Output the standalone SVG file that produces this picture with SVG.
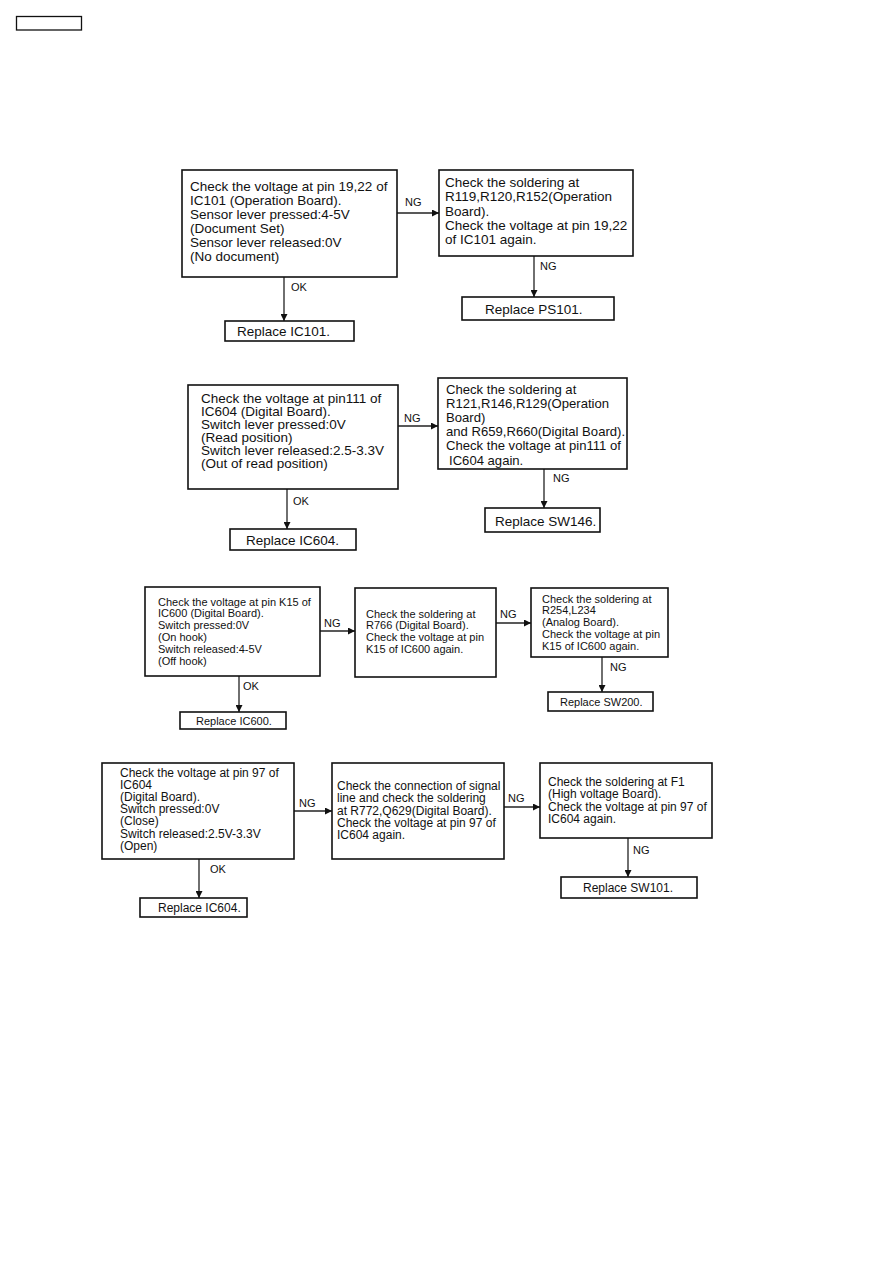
<svg xmlns="http://www.w3.org/2000/svg" width="893" height="1263" viewBox="0 0 893 1263">
<style>
  .box{fill:#fff;stroke:#111;stroke-width:1.6}
  .t{font-family:"Liberation Sans",Arial,Helvetica,sans-serif;fill:#111}
  .s1{font-size:13.5px}
  .s2{font-size:13.1px}
  .s3{font-size:11px}
  .s4{font-size:12px}
  .lbl{font-family:"Liberation Sans",Arial,Helvetica,sans-serif;fill:#111;font-size:11px}
  .c{fill:none;stroke:#222;stroke-width:1.3}
</style>
<defs>
  <marker id="ah" viewBox="0 0 10 10" refX="10" refY="5" markerWidth="7" markerHeight="7" markerUnits="userSpaceOnUse" orient="auto">
    <path d="M0,0 L10,5 L0,10 Z" fill="#111"/>
  </marker>
</defs>
<rect x="16.5" y="16.5" width="65" height="13.5" fill="none" stroke="#111" stroke-width="1.3"/>

<g id="connectors">
  <line class="c" x1="397" y1="213" x2="439" y2="213" marker-end="url(#ah)"/>
  <line class="c" x1="284" y1="277" x2="284" y2="321" marker-end="url(#ah)"/>
  <line class="c" x1="534" y1="256" x2="534" y2="297" marker-end="url(#ah)"/>
  <line class="c" x1="398" y1="426" x2="438" y2="426" marker-end="url(#ah)"/>
  <line class="c" x1="287" y1="489" x2="287" y2="529" marker-end="url(#ah)"/>
  <line class="c" x1="544" y1="469" x2="544" y2="508" marker-end="url(#ah)"/>
  <line class="c" x1="320" y1="631" x2="355" y2="631" marker-end="url(#ah)"/>
  <line class="c" x1="496" y1="623" x2="531" y2="623" marker-end="url(#ah)"/>
  <line class="c" x1="239" y1="676" x2="239" y2="712" marker-end="url(#ah)"/>
  <line class="c" x1="602" y1="657" x2="602" y2="692" marker-end="url(#ah)"/>
  <line class="c" x1="294" y1="811" x2="332" y2="811" marker-end="url(#ah)"/>
  <line class="c" x1="504" y1="807" x2="540" y2="807" marker-end="url(#ah)"/>
  <line class="c" x1="199" y1="859" x2="199" y2="898" marker-end="url(#ah)"/>
  <line class="c" x1="628" y1="838" x2="628" y2="877" marker-end="url(#ah)"/>
  <text class="lbl" x="405" y="206">NG</text>
  <text class="lbl" x="540" y="270">NG</text>
  <text class="lbl" x="291" y="291">OK</text>
  <text class="lbl" x="404" y="422">NG</text>
  <text class="lbl" x="553" y="482">NG</text>
  <text class="lbl" x="293" y="505">OK</text>
  <text class="lbl" x="324" y="627">NG</text>
  <text class="lbl" x="500" y="618">NG</text>
  <text class="lbl" x="243" y="690">OK</text>
  <text class="lbl" x="610" y="671">NG</text>
  <text class="lbl" x="299" y="807">NG</text>
  <text class="lbl" x="508" y="802">NG</text>
  <text class="lbl" x="210" y="873">OK</text>
  <text class="lbl" x="633" y="854">NG</text>
</g>

<!-- Section 1 -->
<g id="n1a">
  <rect class="box" x="182" y="170" width="215" height="107"/>
  <text class="t s1" x="190" y="191">
    <tspan x="190">Check the voltage at pin 19,22 of</tspan>
    <tspan x="190" dy="14">IC101 (Operation Board).</tspan>
    <tspan x="190" dy="14">Sensor lever pressed:4-5V</tspan>
    <tspan x="190" dy="14">(Document Set)</tspan>
    <tspan x="190" dy="14">Sensor lever released:0V</tspan>
    <tspan x="190" dy="14">(No document)</tspan>
  </text>
</g>
<g id="n1b">
  <rect class="box" x="439" y="170" width="194" height="86"/>
  <text class="t s1" x="445" y="187">
    <tspan x="445">Check the soldering at</tspan>
    <tspan x="445" dy="14.3">R119,R120,R152(Operation</tspan>
    <tspan x="445" dy="14.3">Board).</tspan>
    <tspan x="445" dy="14.3">Check the voltage at pin 19,22</tspan>
    <tspan x="445" dy="14.3">of IC101 again.</tspan>
  </text>
</g>
<g id="n1c">
  <rect class="box" x="225" y="321" width="129" height="20"/>
  <text class="t s1" x="237" y="336">Replace IC101.</text>
</g>
<g id="n1d">
  <rect class="box" x="462" y="297" width="152" height="23"/>
  <text class="t s1" x="485" y="314">Replace PS101.</text>
</g>

<!-- Section 2 -->
<g id="n2a">
  <rect class="box" x="188" y="385" width="210" height="104"/>
  <text class="t s1" x="201" y="403">
    <tspan x="201">Check the voltage at pin111 of</tspan>
    <tspan x="201" dy="13">IC604 (Digital Board).</tspan>
    <tspan x="201" dy="13">Switch lever pressed:0V</tspan>
    <tspan x="201" dy="13">(Read position)</tspan>
    <tspan x="201" dy="13">Switch lever released:2.5-3.3V</tspan>
    <tspan x="201" dy="13">(Out of read position)</tspan>
  </text>
</g>
<g id="n2b">
  <rect class="box" x="438" y="378" width="189" height="91"/>
  <text class="t s2" x="446" y="393.5">
    <tspan x="446">Check the soldering at</tspan>
    <tspan x="446" dy="14.2">R121,R146,R129(Operation</tspan>
    <tspan x="446" dy="14.2">Board)</tspan>
    <tspan x="446" dy="14.2">and R659,R660(Digital Board).</tspan>
    <tspan x="446" dy="14.2">Check the voltage at pin111 of</tspan>
    <tspan x="449" dy="14.2">IC604 again.</tspan>
  </text>
</g>
<g id="n2c">
  <rect class="box" x="230" y="529" width="126" height="21"/>
  <text class="t s1" x="246" y="545">Replace IC604.</text>
</g>
<g id="n2d">
  <rect class="box" x="485" y="508" width="115" height="24"/>
  <text class="t s1" x="495" y="526">Replace SW146.</text>
</g>

<!-- Section 3 -->
<g id="n3a">
  <rect class="box" x="145" y="587" width="175" height="89"/>
  <text class="t s3" x="158" y="605.5">
    <tspan x="158">Check the voltage at pin K15 of</tspan>
    <tspan x="158" dy="11.9">IC600 (Digital Board).</tspan>
    <tspan x="158" dy="11.9">Switch pressed:0V</tspan>
    <tspan x="158" dy="11.9">(On hook)</tspan>
    <tspan x="158" dy="11.9">Switch released:4-5V</tspan>
    <tspan x="158" dy="11.9">(Off hook)</tspan>
  </text>
</g>
<g id="n3b">
  <rect class="box" x="355" y="588" width="141" height="89"/>
  <text class="t s3" x="366" y="617.5">
    <tspan x="366">Check the soldering at</tspan>
    <tspan x="366" dy="11.9">R766 (Digital Board).</tspan>
    <tspan x="366" dy="11.9">Check the voltage at pin</tspan>
    <tspan x="366" dy="11.9">K15 of IC600 again.</tspan>
  </text>
</g>
<g id="n3c">
  <rect class="box" x="531" y="588" width="137" height="69"/>
  <text class="t s3" x="542" y="602.5">
    <tspan x="542">Check the soldering at</tspan>
    <tspan x="542" dy="11.9">R254,L234</tspan>
    <tspan x="542" dy="11.9">(Analog Board).</tspan>
    <tspan x="542" dy="11.9">Check the voltage at pin</tspan>
    <tspan x="542" dy="11.9">K15 of IC600 again.</tspan>
  </text>
</g>
<g id="n3d">
  <rect class="box" x="180" y="712" width="106" height="17"/>
  <text class="t s3" x="196" y="724.5">Replace IC600.</text>
</g>
<g id="n3e">
  <rect class="box" x="548" y="692" width="105" height="19"/>
  <text class="t s3" x="560" y="705.5">Replace SW200.</text>
</g>

<!-- Section 4 -->
<g id="n4a">
  <rect class="box" x="102" y="763" width="192" height="96"/>
  <text class="t s4" x="120" y="776.5">
    <tspan x="120">Check the voltage at pin 97 of</tspan>
    <tspan x="120" dy="12.2">IC604</tspan>
    <tspan x="120" dy="12.2">(Digital Board).</tspan>
    <tspan x="120" dy="12.2">Switch pressed:0V</tspan>
    <tspan x="120" dy="12.2">(Close)</tspan>
    <tspan x="120" dy="12.2">Switch released:2.5V-3.3V</tspan>
    <tspan x="120" dy="12.2">(Open)</tspan>
  </text>
</g>
<g id="n4b">
  <rect class="box" x="332" y="763" width="172" height="96"/>
  <text class="t s4" x="337" y="790">
    <tspan x="337">Check the connection of signal</tspan>
    <tspan x="337" dy="12.3">line and check the soldering</tspan>
    <tspan x="337" dy="12.3">at R772,Q629(Digital Board).</tspan>
    <tspan x="337" dy="12.3">Check the voltage at pin 97 of</tspan>
    <tspan x="337" dy="12.3">IC604 again.</tspan>
  </text>
</g>
<g id="n4c">
  <rect class="box" x="540" y="763" width="172" height="75"/>
  <text class="t s4" x="548" y="785.5">
    <tspan x="548">Check the soldering at F1</tspan>
    <tspan x="548" dy="12.5">(High voltage Board).</tspan>
    <tspan x="548" dy="12.5">Check the voltage at pin 97 of</tspan>
    <tspan x="548" dy="12.5">IC604 again.</tspan>
  </text>
</g>
<g id="n4d">
  <rect class="box" x="140" y="898" width="107" height="19"/>
  <text class="t s4" x="158" y="912">Replace IC604.</text>
</g>
<g id="n4e">
  <rect class="box" x="561" y="877" width="136" height="21"/>
  <text class="t s4" x="583" y="892">Replace SW101.</text>
</g>
</svg>
